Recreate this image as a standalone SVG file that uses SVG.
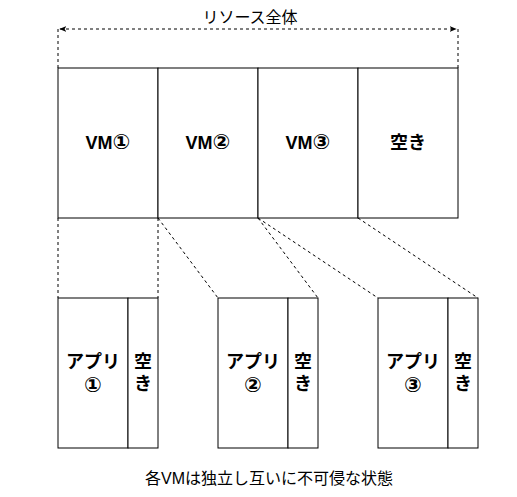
<svg xmlns="http://www.w3.org/2000/svg" width="517" height="497" viewBox="0 0 517 497">
<style>
.box{fill:#fff;stroke:#000;stroke-width:1}
.dash{fill:none;stroke:#000;stroke-width:1;stroke-dasharray:3 3}
.t{font-family:"Liberation Sans","Noto Sans CJK JP",sans-serif;font-size:16px;fill:#000;text-anchor:middle}
.b{font-weight:bold;font-size:18px}
.n{font-family:"DejaVu Sans","Noto Sans CJK JP",sans-serif;font-weight:bold;font-size:21px}
</style>
<defs>
<marker id="ah" viewBox="0 0 10 10" refX="9" refY="5" markerWidth="7" markerHeight="7" orient="auto-start-reverse" markerUnits="userSpaceOnUse">
<path d="M0,1 L10,5 L0,9 L2.5,5 Z" fill="#000"/>
</marker>
</defs>
<rect width="517" height="497" fill="#fff"/>
<g id="connectors">
<line class="dash" x1="58" y1="29" x2="58" y2="68"/>
<line class="dash" x1="458" y1="29" x2="458" y2="68"/>
<line class="dash" x1="60" y1="29" x2="456" y2="29" marker-start="url(#ah)" marker-end="url(#ah)"/>
<line class="dash" x1="58" y1="218" x2="58" y2="298"/>
<line class="dash" x1="158" y1="218" x2="158" y2="298"/>
<line class="dash" x1="158" y1="218" x2="218" y2="298"/>
<line class="dash" x1="258" y1="218" x2="318" y2="298"/>
<line class="dash" x1="258" y1="218" x2="378" y2="298"/>
<line class="dash" x1="358" y1="218" x2="478" y2="298"/>
</g>
<g id="label-total"><text class="t" x="250" y="23">リソース全体</text></g>
<g id="vm1"><rect class="box" x="58" y="68" width="100" height="150"/><text class="t b" x="108" y="149">VM<tspan class="n">①</tspan></text></g>
<g id="vm2"><rect class="box" x="158" y="68" width="100" height="150"/><text class="t b" x="208" y="149">VM<tspan class="n">②</tspan></text></g>
<g id="vm3"><rect class="box" x="258" y="68" width="100" height="150"/><text class="t b" x="308" y="149">VM<tspan class="n">③</tspan></text></g>
<g id="free"><rect class="box" x="358" y="68" width="100" height="150"/><text class="t b" x="408" y="149">空き</text></g>
<g id="app1">
<rect class="box" x="58" y="298" width="70" height="150"/>
<text class="t b" x="93" y="368">アプリ</text><text class="t b n" x="93" y="392">①</text>
</g>
<g id="free1">
<rect class="box" x="128" y="298" width="30" height="150"/>
<text class="t b" x="143" y="368">空</text><text class="t b" x="143" y="390">き</text>
</g>
<g id="app2">
<rect class="box" x="218" y="298" width="70" height="150"/>
<text class="t b" x="253" y="368">アプリ</text><text class="t b n" x="253" y="392">②</text>
</g>
<g id="free2">
<rect class="box" x="288" y="298" width="30" height="150"/>
<text class="t b" x="303" y="368">空</text><text class="t b" x="303" y="390">き</text>
</g>
<g id="app3">
<rect class="box" x="378" y="298" width="70" height="150"/>
<text class="t b" x="413" y="368">アプリ</text><text class="t b n" x="413" y="392">③</text>
</g>
<g id="free3">
<rect class="box" x="448" y="298" width="30" height="150"/>
<text class="t b" x="463" y="368">空</text><text class="t b" x="463" y="390">き</text>
</g>
<g id="caption"><text class="t" x="269" y="484">各VMは独立し互いに不可侵な状態</text></g>
</svg>
